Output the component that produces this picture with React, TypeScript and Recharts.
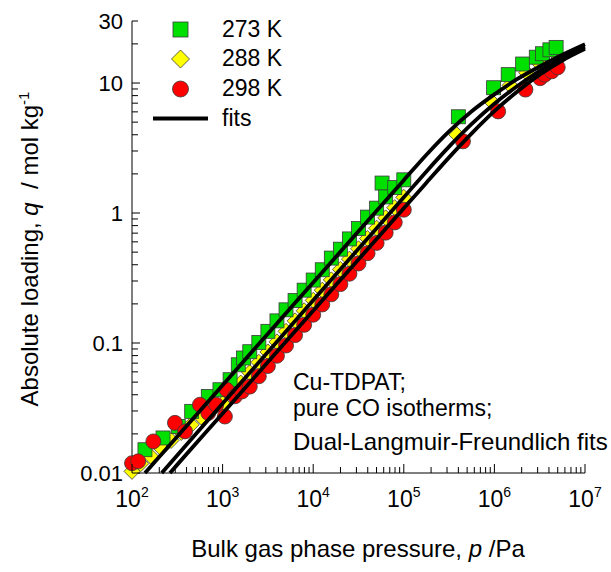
import React from 'react';
import { ComposedChart, Scatter, Line, XAxis, YAxis, Customized } from 'recharts';

const FONT = '"Liberation Sans", Arial, Helvetica, sans-serif';

// 273 K measurements (pressure in Pa, loading in mol/kg)
const p273 = [139, 220, 324, 456, 695, 935, 1210, 1490, 1700, 1995, 2512, 3162, 3981, 5012, 6310, 7943, 10000, 12589, 15849, 19953, 25119, 31623, 39811, 50119, 57544, 63096, 79433, 100000, 400000, 980000, 1420000, 2050000, 2900000, 3400000, 4100000, 4800000];
const q273 = [0.0151, 0.0186, 0.0228, 0.0298, 0.0388, 0.0437, 0.0522, 0.068, 0.0767, 0.0857, 0.101, 0.123, 0.148, 0.18, 0.212, 0.255, 0.305, 0.366, 0.45, 0.527, 0.632, 0.759, 0.93, 1.09, 1.70, 1.33, 1.57, 1.80, 5.5, 9.2, 11.6, 14.0, 15.8, 16.8, 18.0, 18.8];

// 288 K measurements
const p288 = [100, 125, 160, 210, 270, 350, 450, 580, 760, 1000, 1259, 1585, 1995, 2512, 3162, 3981, 5012, 6310, 7943, 10000, 12589, 15849, 19953, 25119, 31623, 39811, 50119, 63096, 79433, 100000, 384000, 930000, 1490000, 2270000, 3180000, 4670000];
const q288 = [0.0103, 0.0118, 0.0135, 0.0155, 0.0178, 0.0205, 0.0235, 0.027, 0.0305, 0.0342, 0.0411, 0.0492, 0.0592, 0.071, 0.0853, 0.102, 0.123, 0.148, 0.177, 0.213, 0.255, 0.306, 0.368, 0.442, 0.531, 0.637, 0.764, 0.918, 1.10, 1.32, 4.0, 7.2, 9.6, 12.0, 14.0, 17.0];

// 298 K measurements
const p298 = [100, 117, 172, 298, 385, 562, 695, 850, 1060, 1110, 1370, 1637, 1995, 2512, 3162, 3981, 5012, 6310, 7943, 10000, 12589, 15849, 19953, 25119, 31623, 39811, 50119, 63096, 79433, 100000, 450000, 1100000, 2200000, 3200000, 3600000, 4300000, 5000000];
const q298 = [0.0119, 0.0123, 0.0175, 0.0243, 0.0209, 0.0335, 0.029, 0.0335, 0.0272, 0.0437, 0.0389, 0.0424, 0.0462, 0.0555, 0.0665, 0.0798, 0.0957, 0.115, 0.138, 0.165, 0.198, 0.237, 0.284, 0.341, 0.409, 0.491, 0.589, 0.706, 0.846, 1.06, 3.56, 6.05, 8.9, 10.9, 11.6, 12.3, 13.2];

// Dual-Langmuir-Freundlich fit curves
const pFit273 = [139, 316, 1000, 3162, 10000, 31623, 100000, 177828, 316228, 562341, 1000000, 1778279, 3162278, 5623413, 10000000];
const qFit273 = [0.01, 0.0191, 0.0474, 0.118, 0.292, 0.724, 1.79, 2.81, 4.25, 6.07, 8.18, 10.7, 13.4, 16.5, 19.9];
const pFit288 = [213, 316, 1000, 3162, 10000, 31623, 100000, 177828, 316228, 562341, 1000000, 1778279, 3162278, 5623413, 10000000];
const qFit288 = [0.01, 0.0137, 0.0342, 0.0853, 0.213, 0.531, 1.32, 2.09, 3.24, 4.84, 6.92, 9.44, 12.4, 15.7, 19.0];
const pFit298 = [262, 316, 1000, 3162, 10000, 31623, 100000, 177828, 316228, 562341, 1000000, 1778279, 3162278, 5623413, 10000000];
const qFit298 = [0.01, 0.0116, 0.0287, 0.0713, 0.177, 0.439, 1.09, 1.71, 2.68, 4.10, 6.07, 8.57, 11.6, 14.9, 18.3];

// Axis ticks
const xTicks = [100, 200, 300, 400, 500, 600, 700, 800, 900, 1000, 2000, 3000, 4000, 5000, 6000, 7000, 8000, 9000, 10000, 20000, 30000, 40000, 50000, 60000, 70000, 80000, 90000, 100000, 200000, 300000, 400000, 500000, 600000, 700000, 800000, 900000, 1000000, 2000000, 3000000, 4000000, 5000000, 6000000, 7000000, 8000000, 9000000, 10000000];
const yTicks = [0.01, 0.02, 0.03, 0.04, 0.05, 0.06, 0.07, 0.08, 0.09, 0.1, 0.2, 0.3, 0.4, 0.5, 0.6, 0.7, 0.8, 0.9, 1, 2, 3, 4, 5, 6, 7, 8, 9, 10, 20, 30];
const yTickLabels = ['0.01', '0.1', '1', '10', '30'];

const toRows = (ps: number[], qs: number[]) => ps.map((p, i) => ({ p, q: qs[i] }));

const d273 = toRows(p273, q273);
const d288 = toRows(p288, q288);
const d298 = toRows(p298, q298);
const f273 = toRows(pFit273, qFit273);
const f288 = toRows(pFit288, qFit288);
const f298 = toRows(pFit298, qFit298);

const GREEN = '#00E000';
const YELLOW = '#FFFF00';
const RED = '#FF0000';
const EDGE = '#3a3a3a';

const isDecade = (v: number) => Math.abs(Math.log10(v) - Math.round(Math.log10(v))) < 1e-6;

const Square = (props: any) => {
  const { cx, cy } = props;
  if (cx == null || cy == null) return null;
  const s = 14;
  return <rect x={cx - s / 2} y={cy - s / 2} width={s} height={s} fill={GREEN} stroke={EDGE} strokeWidth={0.8} />;
};

const Diamond = (props: any) => {
  const { cx, cy } = props;
  if (cx == null || cy == null) return null;
  const h = 8;
  return <polygon points={`${cx},${cy - h} ${cx + h},${cy} ${cx},${cy + h} ${cx - h},${cy}`} fill={YELLOW} stroke={EDGE} strokeWidth={0.8} />;
};

const Dot = (props: any) => {
  const { cx, cy } = props;
  if (cx == null || cy == null) return null;
  return <circle cx={cx} cy={cy} r={7.5} fill={RED} stroke={EDGE} strokeWidth={0.8} />;
};

const XTick = (props: any) => {
  const { x, y, payload } = props;
  const v = payload.value;
  const major = isDecade(v);
  const e = Math.round(Math.log10(v));
  return (
    <g>
      <line x1={x} x2={x} y1={y} y2={y - (major ? 9 : 6)} stroke="#000" strokeWidth={1} />
      {major && (
        <text x={x} y={y + 34} textAnchor="middle" fontSize={23} fontFamily={FONT} fill="#000">
          10<tspan dy={-10} fontSize={14}>{e}</tspan>
        </text>
      )}
    </g>
  );
};

const YTick = (props: any) => {
  const { x, y, payload } = props;
  const v = payload.value;
  const label = yTickLabels.find((t) => Math.abs(parseFloat(t) - v) < 1e-9);
  const major = isDecade(v);
  return (
    <g>
      <line x1={x} x2={x + (major ? 8 : 6)} y1={y} y2={y} stroke="#000" strokeWidth={1} />
      {label && (
        <text x={x - 9} y={y} dy="0.36em" textAnchor="end" fontSize={22} fontFamily={FONT} fill="#000">
          {label}
        </text>
      )}
    </g>
  );
};

const Decorations = () => (
  <g fontFamily={FONT} fill="#000">
    {/* legend */}
    <rect x={173} y={22} width={15} height={15} fill={GREEN} stroke={EDGE} strokeWidth={0.8} />
    <text x={222} y={37} fontSize={23}>273 K</text>
    <polygon points="180.5,50 189.5,59 180.5,68 171.5,59" fill={YELLOW} stroke={EDGE} strokeWidth={0.8} />
    <text x={222} y={66} fontSize={23}>288 K</text>
    <circle cx={180.5} cy={89} r={8} fill={RED} stroke={EDGE} strokeWidth={0.8} />
    <text x={222} y={96} fontSize={23}>298 K</text>
    <line x1={153} x2={208} y1={118.5} y2={118.5} stroke="#000" strokeWidth={4} />
    <text x={222} y={126} fontSize={23}>fits</text>

    {/* annotation */}
    <text x={293} y={389.5} fontSize={23}>Cu-TDPAT;</text>
    <text x={293} y={415.5} fontSize={23}>pure CO isotherms;</text>
    <text x={293} y={450} fontSize={24}>Dual-Langmuir-Freundlich fits</text>

    {/* axis titles */}
    <text x={358} y={557} fontSize={24} textAnchor="middle">
      Bulk gas phase pressure, <tspan fontStyle="italic">p</tspan> /Pa
    </text>
    <text x={38} y={249} fontSize={24} textAnchor="middle" transform="rotate(-90 38 249)">
      Absolute loading, <tspan fontStyle="italic">q</tspan>{'\u00a0\u00a0/ mol kg'}
      <tspan dy={-9} fontSize={15}>-1</tspan>
    </text>
  </g>
);

export default function App() {
  return (
    <div style={{ position: 'absolute', left: 0, top: 0, width: 611, height: 572, background: '#fff' }}>
      <ComposedChart width={611} height={572} margin={{ top: 21, right: 26, bottom: 39, left: 0 }}>
        <XAxis
          type="number"
          dataKey="p"
          scale="log"
          domain={[100, 10000000]}
          ticks={xTicks}
          interval={0}
          tickSize={0}
          tickMargin={0}
          tickLine={false}
          tick={<XTick />}
          axisLine={{ stroke: '#000', strokeWidth: 1 }}
          height={60}
        />
        <YAxis
          type="number"
          dataKey="q"
          scale="log"
          domain={[0.01, 30]}
          ticks={yTicks}
          interval={0}
          tickSize={0}
          tickMargin={0}
          tickLine={false}
          tick={<YTick />}
          axisLine={{ stroke: '#000', strokeWidth: 1 }}
          width={132}
        />
        <Scatter name="288 K" data={d288} dataKey="q" shape={<Diamond />} isAnimationActive={false} />
        <Scatter name="273 K" data={d273} dataKey="q" shape={<Square />} isAnimationActive={false} />
        <Scatter name="298 K" data={d298} dataKey="q" shape={<Dot />} isAnimationActive={false} />
        <Line data={f273} dataKey="q" type="monotone" stroke="#000" strokeWidth={3.8} dot={false} isAnimationActive={false} zIndex={700} />
        <Line data={f288} dataKey="q" type="monotone" stroke="#000" strokeWidth={3.8} dot={false} isAnimationActive={false} zIndex={700} />
        <Line data={f298} dataKey="q" type="monotone" stroke="#000" strokeWidth={3.8} dot={false} isAnimationActive={false} zIndex={700} />
        <Customized component={Decorations} />
      </ComposedChart>
    </div>
  );
}
